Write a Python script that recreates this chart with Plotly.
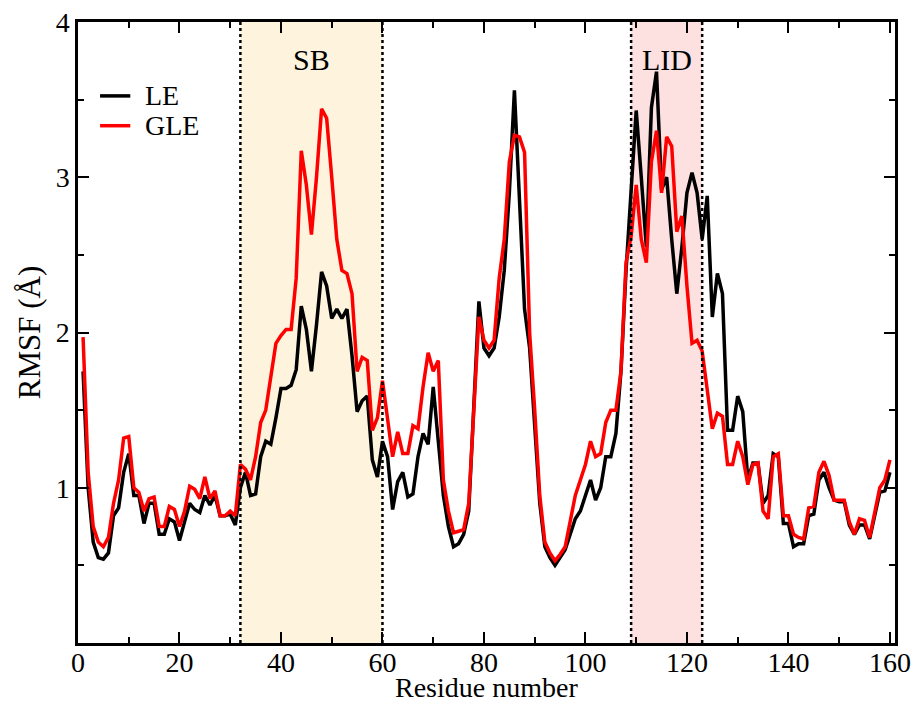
import plotly.graph_objects as go

residues = list(range(1, 161))
le = [1.75, 1.0, 0.65, 0.55, 0.54, 0.58, 0.82, 0.87, 1.1, 1.22,
      0.95, 0.95, 0.77, 0.9, 0.9, 0.7, 0.7, 0.8, 0.78, 0.66,
      0.78, 0.9, 0.86, 0.84, 0.95, 0.89, 0.95, 0.82, 0.82, 0.83,
      0.76, 1.0, 1.1, 0.95, 0.96, 1.2, 1.3, 1.28, 1.45, 1.64,
      1.64, 1.66, 1.76, 2.17, 2.02, 1.75, 2.05, 2.39, 2.3, 2.09,
      2.15, 2.09, 2.15, 1.85, 1.49, 1.56, 1.59, 1.18, 1.07, 1.3,
      1.2, 0.86, 1.04, 1.1, 0.94, 0.96, 1.2, 1.35, 1.28, 1.65,
      1.3, 0.95, 0.75, 0.62, 0.64, 0.7, 0.85, 1.5, 2.2, 1.9,
      1.85, 1.9, 2.1, 2.4, 2.9, 3.56, 2.9, 2.15, 1.9, 1.4,
      0.9, 0.62, 0.55, 0.5, 0.55, 0.6, 0.7, 0.8, 0.85, 0.95,
      1.05, 0.92, 1.0, 1.2, 1.2, 1.35, 1.75, 2.4, 2.9, 3.43,
      3.0, 2.55, 3.45, 3.68, 2.92, 3.0, 2.6, 2.25, 2.55, 2.9,
      3.03, 2.9, 2.6, 2.88, 2.1, 2.38, 2.25, 1.37, 1.37, 1.59,
      1.49, 1.05, 1.16, 1.16, 0.9, 0.95, 1.22, 1.2, 0.77, 0.77,
      0.62, 0.64, 0.64, 0.82, 0.83, 1.05, 1.1, 1.0, 0.92, 0.91,
      0.91, 0.76, 0.7, 0.76, 0.76, 0.67, 0.82, 0.97, 0.98, 1.1]
gle = [1.97, 1.1, 0.75, 0.65, 0.62, 0.68, 0.9, 1.05, 1.32, 1.33,
       1.0, 0.97, 0.85, 0.93, 0.94, 0.75, 0.75, 0.88, 0.86, 0.75,
       0.85, 1.01, 0.99, 0.93, 1.07, 0.93, 0.98, 0.82, 0.82, 0.85,
       0.82, 1.15, 1.12, 1.05, 1.2, 1.42, 1.5, 1.7, 1.93, 1.98,
       2.02, 2.02, 2.35, 3.17, 2.95, 2.63, 3.0, 3.44, 3.38, 3.0,
       2.6, 2.4, 2.38, 2.25, 1.75, 1.84, 1.82, 1.37, 1.45, 1.69,
       1.45, 1.2, 1.36, 1.22, 1.22, 1.4, 1.38, 1.65, 1.87, 1.75,
       1.82, 1.05, 0.85, 0.71, 0.72, 0.73, 0.9, 1.55, 2.1, 1.95,
       1.9, 1.95, 2.35, 2.6, 3.1, 3.27, 3.26, 3.16, 2.0, 1.5,
       0.95, 0.65, 0.58, 0.53, 0.57, 0.62, 0.78, 0.95, 1.05, 1.15,
       1.3, 1.2, 1.22, 1.42, 1.5, 1.5, 1.75, 2.45, 2.62, 2.95,
       2.6, 2.45, 3.1, 3.3, 2.9, 3.26, 3.2, 2.65, 2.75, 2.3,
       1.93, 1.95, 1.88, 1.62, 1.38, 1.48, 1.46, 1.15, 1.15, 1.3,
       1.2, 1.02, 1.15, 1.16, 0.85, 0.8, 1.2, 1.22, 0.82, 0.82,
       0.7, 0.68, 0.67, 0.87, 0.88, 1.1, 1.17, 1.08, 0.92, 0.92,
       0.92, 0.78, 0.7, 0.8, 0.79, 0.68, 0.85, 1.0, 1.05, 1.18]

series_names = ["LE", "GLE"]
series_colors = ["black", "red"]

regions = [("SB", 32, 60, "rgba(253,240,210,0.75)"),
           ("LID", 109, 123, "rgba(252,214,214,0.75)")]

x_title = "Residue number"
y_title = "RMSF (Å)"

FONT = "Liberation Serif"

fig = go.Figure()
for name, x0, x1, col in regions:
    fig.add_vrect(x0=x0, x1=x1, fillcolor=col, line_width=0, layer="below")
    for xv in (x0, x1):
        fig.add_shape(type="line", x0=xv, x1=xv, y0=0, y1=4, xref="x", yref="y",
                      line=dict(color="black", width=2.5, dash="dot"))
    fig.add_annotation(x=(x0 + x1) / 2, y=3.76, text=name, showarrow=False,
                       font=dict(family=FONT, size=30, color="black"))

for name, ys, col in zip(series_names, [le, gle], series_colors):
    fig.add_trace(go.Scatter(x=residues, y=ys, mode="lines", name=name,
                             showlegend=False, line=dict(color=col, width=3.5)))

# legend drawn inside the plot (compact row spacing like the original)
leg_y = [0.881, 0.833]
for name, col, yy in zip(series_names, series_colors, leg_y):
    fig.add_shape(type="line", xref="paper", yref="paper", x0=0.027, x1=0.064,
                  y0=yy, y1=yy, line=dict(color=col, width=3.5))
    fig.add_annotation(xref="paper", yref="paper", x=0.081, y=yy, text=name,
                       showarrow=False, xanchor="left", yanchor="middle", borderpad=0,
                       font=dict(family=FONT, size=28, color="black"))

# x-axis title as annotation below tick labels
fig.add_annotation(xref="paper", yref="paper", x=0.5, y=-0.098, text=x_title,
                   showarrow=False, xanchor="center", yanchor="bottom", borderpad=0,
                   font=dict(family=FONT, size=28, color="black"))

axis_common = dict(showline=True, linecolor="black", linewidth=2.5, mirror="ticks",
                   ticks="inside", ticklen=11, tickwidth=2, tickcolor="black",
                   showgrid=False, zeroline=False, automargin=False,
                   tickfont=dict(family=FONT, size=28, color="black"))

fig.update_xaxes(range=[0, 161], tickvals=list(range(0, 161, 20)),
                 ticklabelstandoff=-7,
                 minor=dict(ticks="inside", ticklen=6, tickwidth=2, tickcolor="black",
                            tickvals=list(range(10, 160, 20)), showgrid=False),
                 **axis_common)
fig.update_yaxes(range=[0, 4], tickvals=[1, 2, 3, 4],
                 minor=dict(ticks="inside", ticklen=6, tickwidth=2, tickcolor="black",
                            tickvals=[0.5, 1.5, 2.5, 3.5], showgrid=False),
                 title=dict(text=y_title, font=dict(family=FONT, size=31, color="black"),
                            standoff=6),
                 **axis_common)

fig.update_layout(width=916, height=704, plot_bgcolor="white", paper_bgcolor="white",
                  margin=dict(l=78, r=21, t=22, b=61, autoexpand=False),
                  showlegend=False)

fig.write_html("out.html")
